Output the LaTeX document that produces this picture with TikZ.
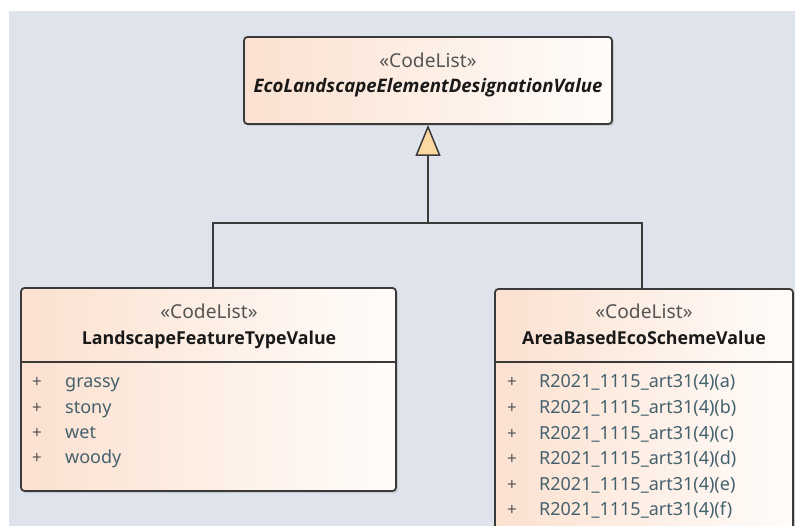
\documentclass[tikz,border=0pt]{standalone}
\usepackage{fontspec}
\setmainfont{Noto Sans}
\newfontfamily\namefont{Open Sans}
\usetikzlibrary{arrows.meta,shadows}
\definecolor{bg}{HTML}{DFE3EC}
\definecolor{peach}{HTML}{FBE1D0}
\definecolor{cream}{HTML}{FFFCFA}
\definecolor{boxline}{HTML}{3A3A3A}
\definecolor{stereo}{HTML}{555555}
\definecolor{attr}{HTML}{44616E}
\definecolor{tri}{HTML}{FCD9A0}
\begin{document}
\begin{tikzpicture}[x=1pt,y=-1pt,
  classbox/.style={draw=boxline, line width=1.8pt, rounded corners=3.5pt,
    left color=peach, right color=cream, inner sep=0pt,
    drop shadow={shadow xshift=2pt, shadow yshift=-2pt, opacity=0.25}},
  stereotxt/.style={anchor=base, inner sep=0pt, text=stereo, font=\fontsize{19.2}{22}\selectfont},
  nametxt/.style={anchor=base, inner sep=0pt, text=black!90, font=\namefont\fontsize{17.8}{20}\selectfont\bfseries},
  plus/.style={anchor=base west, inner sep=0pt, text=stereo, font=\fontsize{17}{20}\selectfont},
  attrtxt/.style={anchor=base west, inner sep=0pt, text=attr, font=\fontsize{18}{20}\selectfont},
  conn/.style={draw=boxline, line width=1.8pt},
  sep/.style={draw=boxline, line width=1.3pt}
]
\useasboundingbox (0,0) rectangle (795,526);
\clip (0,0) rectangle (795,526);
\fill[white] (0,0) rectangle (795,526);
\fill[bg] (9,11) rectangle (795,526);

% boxes
\node[classbox, minimum width=368pt, minimum height=87pt] (top) at (428,80.5) {};
\node[classbox, minimum width=375pt, minimum height=203pt] (left) at (208.5,389.5) {};
\node[classbox, minimum width=298pt, minimum height=280pt] (right) at (644,429) {};

% separators
\draw[sep] (left.west |- 0,362) coordinate (ls1) -- (left.east |- 0,362) coordinate (ls2);
\draw[sep] (right.west |- 0,362) coordinate (rs1) -- (right.east |- 0,362) coordinate (rs2);

% top texts
\node[stereotxt] (tops) at (428,67.5) {«CodeList»};
\node[nametxt, font=\namefont\fontsize{18.6}{20}\selectfont\bfseries\itshape] (topn) at (428,93) {EcoLandscapeElementDesignationValue};

% left texts
\node[stereotxt] (lefts) at (209,319) {«CodeList»};
\node[nametxt] (leftn) at (209,345) {LandscapeFeatureTypeValue};
\foreach \t [count=\i] in {grassy,stony,wet,woody}{
  \node[plus] (lp\i) at (32,388+25.3*\i-25.3) {+};
  \node[attrtxt] (la\i) at (65,388+25.3*\i-25.3) {\t};
}

% right texts
\node[stereotxt] (rights) at (644,319) {«CodeList»};
\node[nametxt] (rightn) at (644,345) {AreaBasedEcoSchemeValue};
\foreach \t [count=\i] in {a,b,c,d,e,f}{
  \node[plus] (rp\i) at (507,388+25.5*\i-25.5) {+};
  \node[attrtxt] (ra\i) at (539,388+25.5*\i-25.5) {R2021\_1115\_art31(4)(\t)};
}

% generalization
\coordinate (j) at (428,223);
\draw[conn, -{Triangle[length=31pt, width=25pt, fill=tri, line width=1.5pt]}] (j) -- (top.south);
\draw[conn] ([xshift=4.5pt]left.north) |- (j) -| ([xshift=-2pt]right.north);
\end{tikzpicture}
\end{document}
